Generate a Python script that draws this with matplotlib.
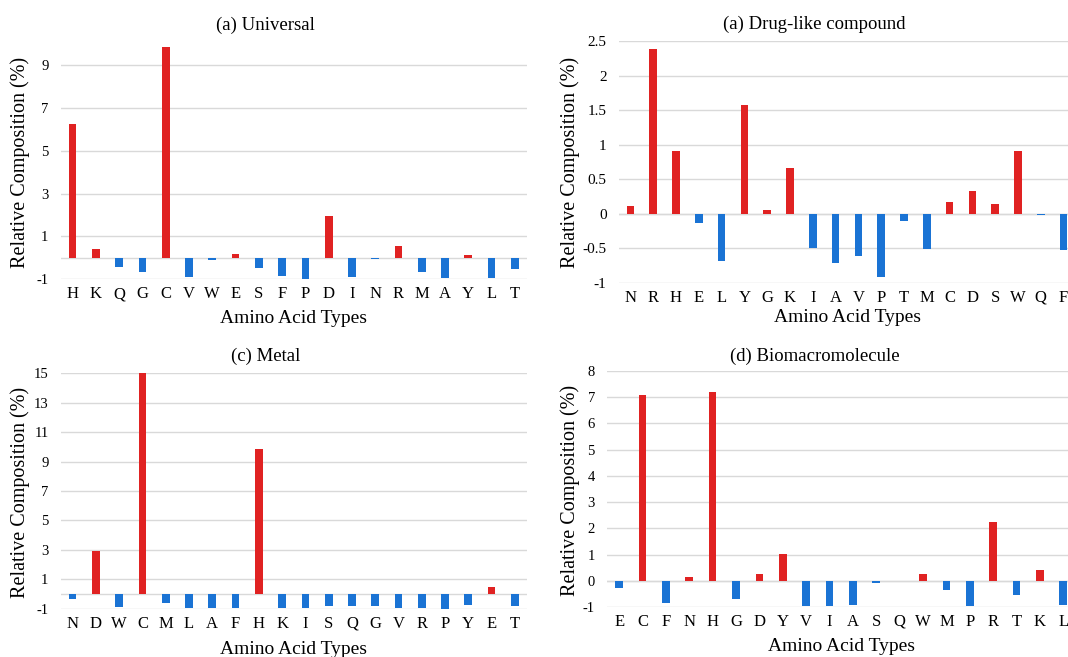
import matplotlib
matplotlib.use("Agg")
import matplotlib.pyplot as plt
import numpy as np

W, H = 1068, 657

RED = "#E02222"
BLUE = "#1A73D4"
GRID = "#D9D9D9"

# (a) Universal
univ_aa = ["H", "K", "Q", "G", "C", "V", "W", "E", "S", "F",
           "P", "D", "I", "N", "R", "M", "A", "Y", "L", "T"]
univ_val = [6.24, 0.42, -0.42, -0.67, 9.86, -0.89, -0.11, 0.19, -0.48, -0.84,
            -0.98, 1.94, -0.89, -0.06, 0.57, -0.67, -0.93, 0.12, -0.93, -0.54]
univ_ticks = [-1, 1, 3, 5, 7, 9]

# (b) Drug-like compound
drug_aa = ["N", "R", "H", "E", "L", "Y", "G", "K", "I", "A",
           "V", "P", "T", "M", "C", "D", "S", "W", "Q", "F"]
drug_val = [0.11, 2.39, 0.91, -0.13, -0.69, 1.58, 0.05, 0.66, -0.50, -0.71,
            -0.62, -0.92, -0.10, -0.51, 0.17, 0.33, 0.14, 0.91, -0.02, -0.53]
drug_ticks = [-1, -0.5, 0, 0.5, 1, 1.5, 2, 2.5]

# (c) Metal
metal_aa = ["N", "D", "W", "C", "M", "L", "A", "F", "H", "K",
            "I", "S", "Q", "G", "V", "R", "P", "Y", "E", "T"]
metal_val = [-0.32, 2.95, -0.86, 15.0, -0.64, -0.98, -0.98, -0.98, 9.86, -0.98,
             -0.93, -0.82, -0.82, -0.82, -0.98, -0.98, -1.0, -0.77, 0.45, -0.82]
metal_ticks = [-1, 1, 3, 5, 7, 9, 11, 13, 15]

# (d) Biomacromolecule
bio_aa = ["E", "C", "F", "N", "H", "G", "D", "Y", "V", "I",
          "A", "S", "Q", "W", "M", "P", "R", "T", "K", "L"]
bio_val = [-0.29, 7.07, -0.83, 0.15, 7.19, -0.71, 0.27, 1.04, -0.97, -0.97,
           -0.94, -0.09, 0.0, 0.27, -0.37, -0.97, 2.26, -0.55, 0.42, -0.94]
bio_ticks = [-1, 0, 1, 2, 3, 4, 5, 6, 7, 8]

plt.rcParams["font.family"] = ["Liberation Serif", "DejaVu Serif"]


def px_axes(fig, left, top, right, bottom):
    return fig.add_axes([left / W, 1 - bottom / H, (right - left) / W, (bottom - top) / H])


def draw_panel(fig, box, aa, vals, ticks, ymax, title, title_xy, ylab_xy, xlab_y, ytick_size):
    ax = px_axes(fig, *box)
    x = np.arange(len(aa))
    colors = [RED if v > 0 else BLUE for v in vals]
    ax.bar(x, vals, width=0.33, color=colors, zorder=3)
    ax.set_xlim(-0.5, len(aa) - 0.5)
    ax.set_ylim(ticks[0], ymax)
    ax.set_yticks(ticks)
    ax.set_yticklabels([("%g" % t) for t in ticks], fontsize=ytick_size)
    ax.set_xticks(x)
    ax.set_xticklabels(aa, fontsize=12)
    ax.tick_params(length=0)
    ax.tick_params(axis="x", pad=5)
    ax.tick_params(axis="y", pad=9)
    ax.grid(axis="y", color=GRID, linewidth=1, zorder=0)
    ax.axhline(0, color=GRID, linewidth=1, zorder=1)
    for s in ax.spines.values():
        s.set_visible(False)
    fig.text(title_xy[0] / W, 1 - title_xy[1] / H, title, fontsize=13.5,
             ha="center", va="center")
    fig.text(ylab_xy[0] / W, 1 - ylab_xy[1] / H, "Relative Composition (%)",
             fontsize=14.5, rotation=90, ha="center", va="center")
    cx = (box[0] + box[2]) / 2
    fig.text(cx / W, 1 - xlab_y / H, "Amino Acid Types", fontsize=14,
             ha="center", va="center")
    return ax


fig = plt.figure(figsize=(W / 100, H / 100), dpi=100)

draw_panel(fig, (61, 43.6, 526.5, 279.3), univ_aa, univ_val, univ_ticks, 10,
           "(a) Universal", (265, 25), (20, 162), 319, 10.5)
draw_panel(fig, (619, 41, 1075, 282.7), drug_aa, drug_val, drug_ticks, 2.5,
           "(a) Drug-like compound", (814.6, 24.3), (570, 162), 318, 11)
draw_panel(fig, (61, 373.3, 526.5, 608.7), metal_aa, metal_val, metal_ticks, 15,
           "(c) Metal", (265.7, 356), (20, 492), 650, 10.5)
draw_panel(fig, (607.4, 371, 1075, 607), bio_aa, bio_val, bio_ticks, 8,
           "(d) Biomacromolecule", (815.3, 356), (570, 490), 646.7, 10.5)

fig.savefig("out.png", dpi=100)
